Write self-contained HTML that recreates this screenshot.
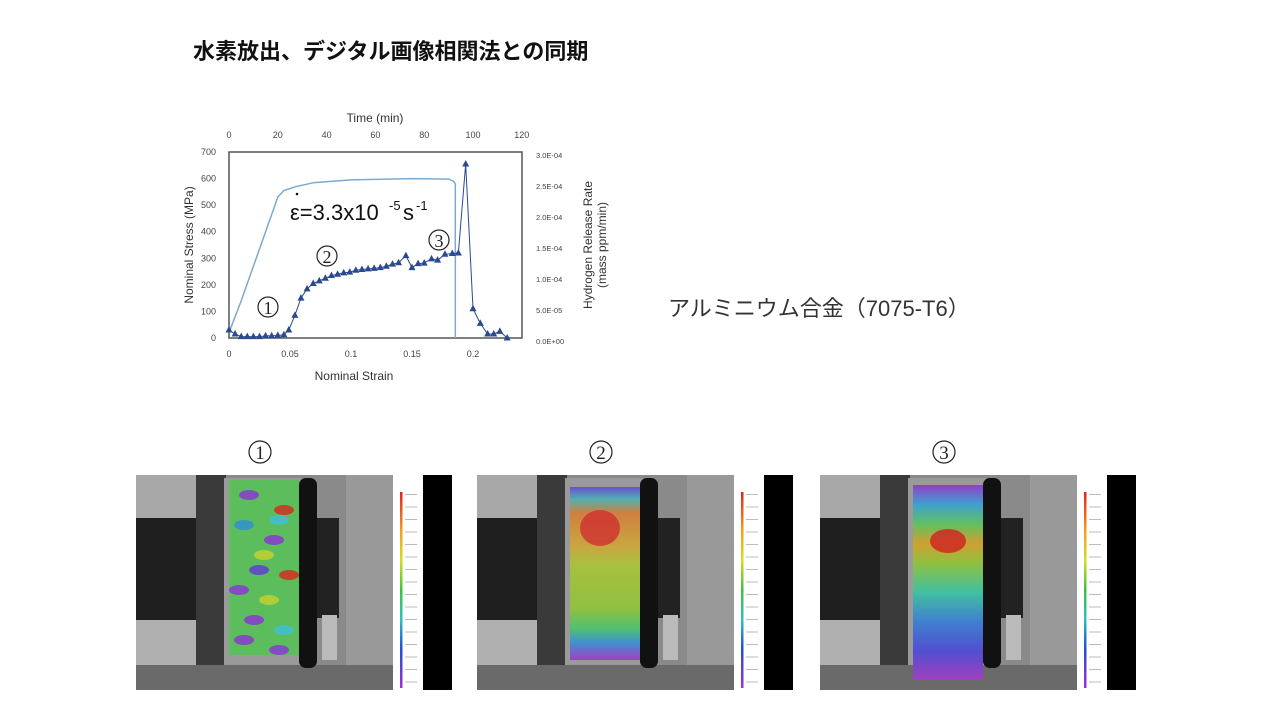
<!DOCTYPE html>
<html><head><meta charset="utf-8"><style>
body{margin:0;width:1280px;height:720px;background:#fff;overflow:hidden;font-family:"Liberation Sans","Noto Sans CJK JP",sans-serif;}
svg{position:absolute;left:0;top:0}
</style></head><body>
<svg id="s" width="1280" height="720" xmlns="http://www.w3.org/2000/svg">
<defs>
<linearGradient id="cbar" x1="0" y1="0" x2="0" y2="1"><stop offset="0" stop-color="#e02020"/><stop offset="0.2" stop-color="#f0a020"/><stop offset="0.35" stop-color="#d0e020"/><stop offset="0.5" stop-color="#40c040"/><stop offset="0.65" stop-color="#30c0c0"/><stop offset="0.8" stop-color="#2050d0"/><stop offset="1" stop-color="#a030d0"/></linearGradient>
<linearGradient id="sp2" x1="0" y1="0" x2="0" y2="1"><stop offset="0" stop-color="#6a50d0"/><stop offset="0.07" stop-color="#50b0b0"/><stop offset="0.15" stop-color="#d08040"/><stop offset="0.35" stop-color="#c8a840"/><stop offset="0.45" stop-color="#a8c040"/><stop offset="0.7" stop-color="#90c040"/><stop offset="0.82" stop-color="#50c070"/><stop offset="0.9" stop-color="#4090d0"/><stop offset="1" stop-color="#a040c0"/></linearGradient>
<linearGradient id="sp3" x1="0" y1="0" x2="0" y2="1"><stop offset="0" stop-color="#9040c8"/><stop offset="0.1" stop-color="#40a0d0"/><stop offset="0.2" stop-color="#60c060"/><stop offset="0.3" stop-color="#d0a030"/><stop offset="0.4" stop-color="#90c040"/><stop offset="0.55" stop-color="#40c0a0"/><stop offset="0.7" stop-color="#4080d0"/><stop offset="0.85" stop-color="#5050d0"/><stop offset="1" stop-color="#a040c0"/></linearGradient>
</defs>
<text x="193" y="59" font-size="22" font-weight="bold" fill="#111" font-family="Liberation Sans, Noto Sans CJK JP, sans-serif">水素放出、デジタル画像相関法との同期</text>
<text x="668" y="316" font-size="22" fill="#333" font-family="Liberation Sans, Noto Sans CJK JP, sans-serif">アルミニウム合金（7075-T6）</text>
<g id="chart"></g>
<g id="panels"></g>
</svg>
<script>
const NS="http://www.w3.org/2000/svg";
function el(p,t,a,txt){const e=document.createElementNS(NS,t);for(const k in a)e.setAttribute(k,a[k]);if(txt!==undefined)e.textContent=txt;p.appendChild(e);return e;}
const c=document.getElementById('chart');
const X=s=>229+s*1220, Y=m=>338-m*0.2657;
el(c,'rect',{x:229,y:152,width:293,height:186,fill:'none',stroke:'#555','stroke-width':1.5});
const g='#444';
[0,100,200,300,400,500,600,700].forEach(v=>el(c,'text',{x:216,y:Y(v)+3,'font-size':9,'text-anchor':'end',fill:g},v));
[[0,'0'],[0.05,'0.05'],[0.1,'0.1'],[0.15,'0.15'],[0.2,'0.2']].forEach(([v,t])=>el(c,'text',{x:X(v),y:357,'font-size':9,'text-anchor':'middle',fill:g},t));
[0,20,40,60,80,100,120].forEach((v,i)=>el(c,'text',{x:229+i*48.8,y:138,'font-size':9,'text-anchor':'middle',fill:g},v));
['0.0E+00','5.0E-05','1.0E-04','1.5E-04','2.0E-04','2.5E-04','3.0E-04'].forEach((t,i)=>el(c,'text',{x:536,y:341-i*31+3,'font-size':7.5,fill:g},t));
el(c,'text',{x:375,y:122,'font-size':12,'text-anchor':'middle',fill:'#333'},'Time (min)');
el(c,'text',{x:354,y:380,'font-size':12,'text-anchor':'middle',fill:'#333'},'Nominal Strain');
el(c,'text',{x:0,y:0,'font-size':12,'text-anchor':'middle',fill:'#333',transform:'translate(193,245) rotate(-90)'},'Nominal Stress (MPa)');
el(c,'text',{x:0,y:0,'font-size':12,'text-anchor':'middle',fill:'#333',transform:'translate(592,245) rotate(-90)'},'Hydrogen Release Rate');
el(c,'text',{x:0,y:0,'font-size':12,'text-anchor':'middle',fill:'#333',transform:'translate(606,245) rotate(-90)'},'(mass ppm/min)');
const st=[[0,20],[0.01,140],[0.02,270],[0.03,400],[0.04,530],[0.045,555],[0.055,570],[0.07,585],[0.1,595],[0.15,600],[0.18,598],[0.184,590],[0.1855,580],[0.1855,0]];
el(c,'polyline',{points:st.map(p=>X(p[0])+','+Y(p[1])).join(' '),fill:'none',stroke:'#7aaad0','stroke-width':1.5});
const h=[[0,30],[0.005,15],[0.01,5],[0.015,5],[0.02,5],[0.025,5],[0.03,8],[0.035,8],[0.04,10],[0.045,12],[0.049,30],[0.054,85],[0.059,150],[0.064,185],[0.069,205],[0.074,215],[0.079,225],[0.084,235],[0.089,240],[0.094,245],[0.099,248],[0.104,255],[0.109,258],[0.114,260],[0.119,262],[0.124,265],[0.129,270],[0.134,278],[0.139,283],[0.145,310],[0.15,265],[0.155,280],[0.16,282],[0.166,298],[0.171,293],[0.177,315],[0.183,318],[0.188,320],[0.194,655],[0.2,110],[0.206,55],[0.212,15],[0.217,15],[0.222,25],[0.228,0]];
el(c,'polyline',{points:h.map(p=>X(p[0])+','+Y(p[1])).join(' '),fill:'none',stroke:'#2a4a90','stroke-width':1});
h.forEach(p=>{const x=X(p[0]),y=Y(p[1]);el(c,'polygon',{points:`${x},${y-4} ${x-3.5},${y+2.5} ${x+3.5},${y+2.5}`,fill:'#2a4a90'});});
el(c,'text',{x:290,y:220,'font-size':22,fill:'#111'},'ε=3.3x10');
el(c,'text',{x:389,y:210,'font-size':13,fill:'#111'},'-5');
el(c,'text',{x:403,y:220,'font-size':22,fill:'#111'},'s');
el(c,'text',{x:416,y:210,'font-size':13,fill:'#111'},'-1');
el(c,'circle',{cx:297,cy:194,r:1.3,fill:'#111'});
[[268,307,'1'],[327,256,'2'],[439,240,'3']].forEach(([x,y,t])=>{el(c,'circle',{cx:x,cy:y,r:10,fill:'#fff',stroke:'#222','stroke-width':1.2});el(c,'text',{x:x,y:y+7,'font-size':18,'text-anchor':'middle',fill:'#222','font-family':'Liberation Serif, serif'},t);});
const P=document.getElementById('panels');
[[136,'1',null],[477,'2','url(#sp2)'],[820,'3','url(#sp3)']].forEach(([x0,n,fill],i)=>{
 const cx=x0+124;
 el(P,'circle',{cx:cx,cy:452,r:11,fill:'#fff',stroke:'#222','stroke-width':1.2});
 el(P,'text',{x:cx,y:459,'font-size':19,'text-anchor':'middle',fill:'#222','font-family':'Liberation Serif, serif'},n);
 el(P,'rect',{x:x0,y:475,width:257,height:215,fill:'#8a8a8a'});
 el(P,'rect',{x:x0,y:475,width:60,height:45,fill:'#a8a8a8'});
 el(P,'rect',{x:x0,y:518,width:90,height:102,fill:'#1e1e1e'});
 el(P,'rect',{x:x0,y:620,width:90,height:45,fill:'#b0b0b0'});
 el(P,'rect',{x:x0+60,y:475,width:30,height:190,fill:'#3a3a3a'});
 el(P,'rect',{x:x0,y:665,width:257,height:25,fill:'#6a6a6a'});
 el(P,'rect',{x:x0+88,y:478,width:78,height:187,fill:'#9a9a9a'});
 el(P,'rect',{x:x0+163,y:478,width:18,height:190,rx:7,fill:'#111'});
 el(P,'rect',{x:x0+181,y:518,width:22,height:100,fill:'#222'});
 el(P,'rect',{x:x0+186,y:615,width:15,height:45,fill:'#bbb'});
 el(P,'rect',{x:x0+210,y:475,width:47,height:190,fill:'#999'});
 const sy=i==2?485:(i==1?487:480), sh=i==2?195:(i==1?173:175);
 if(fill){el(P,'rect',{x:x0+93,y:sy,width:70,height:sh,fill:fill});
  if(i==1)el(P,'ellipse',{cx:x0+123,cy:528,rx:20,ry:18,fill:'#d03030',opacity:0.8});
  if(i==2)el(P,'ellipse',{cx:x0+128,cy:541,rx:18,ry:12,fill:'#d02020',opacity:0.8});
 } else {
  el(P,'rect',{x:x0+93,y:sy,width:70,height:sh,fill:'#5cbd5c'});
  const bl=[[20,15,'#8a3ad0'],[55,30,'#d03020'],[15,45,'#3090d0'],[45,60,'#8a3ad0'],[30,90,'#6040d0'],[60,95,'#d03020'],[10,110,'#8a3ad0'],[40,120,'#c0d030'],[25,140,'#8a3ad0'],[55,150,'#40c0d0'],[15,160,'#8a3ad0'],[50,170,'#8a3ad0'],[35,75,'#c0d030'],[50,40,'#40c0d0']];
  bl.forEach(([dx,dy,col])=>el(P,'ellipse',{cx:x0+93+dx,cy:sy+dy,rx:10,ry:5,fill:col,opacity:0.85}));
 }
 el(P,'rect',{x:x0+264,y:492,width:2.5,height:196,fill:'url(#cbar)'});
 for(let k=0;k<16;k++)el(P,'rect',{x:x0+269,y:494+k*12.5,width:12,height:1,fill:'#bbb'});
 el(P,'rect',{x:x0+287,y:475,width:29,height:215,fill:'#000'});
});
</script>
</body></html>
